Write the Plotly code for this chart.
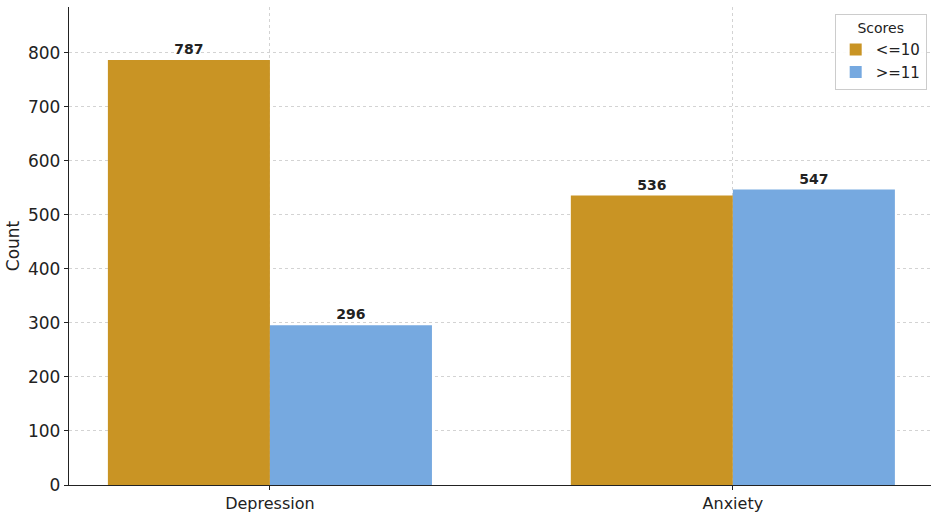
import plotly.graph_objects as go

categories = ["Depression", "Anxiety"]
low_scores = [787, 536]
high_scores = [296, 547]
series_names = ["<=10", ">=11"]
y_ticks = [0, 100, 200, 300, 400, 500, 600, 700, 800]

GOLD = "#C99424"
BLUE = "#76A9E0"
FONT = "DejaVu Sans, Verdana, sans-serif"

fig = go.Figure()
for name, vals, col in [(series_names[0], low_scores, GOLD), (series_names[1], high_scores, BLUE)]:
    fig.add_trace(go.Bar(
        x=categories, y=vals, name=name,
        marker=dict(color=col, line=dict(width=0)),
        text=[str(v) for v in vals], textposition="outside",
        textfont=dict(family=FONT, size=14, color="#222222", weight="bold"),
        cliponaxis=False,
    ))

fig.update_layout(
    width=935, height=514,
    margin=dict(l=69, r=4, t=7, b=29, autoexpand=False),
    paper_bgcolor="white", plot_bgcolor="white",
    barmode="group", bargap=0.3, bargroupgap=0,
    font=dict(family=FONT, size=16, color="#222222"),
    legend=dict(
        title=dict(text="Scores", side="top center", font=dict(size=14, family=FONT)),
        x=0.995, xanchor="right", y=0.985, yanchor="top",
        bordercolor="#CCCCCC", borderwidth=1, bgcolor="rgba(255,255,255,0.9)",
        font=dict(size=15, family=FONT),
        itemsizing="constant",
    ),
    showlegend=True,
)
fig.update_xaxes(
    range=[-0.434, 1.428],
    showline=True, linecolor="#222222", linewidth=1.3,
    ticks="outside", ticklen=4, tickcolor="#222222",
    showgrid=True, gridcolor="#D3D3D3", griddash="3px,3px", gridwidth=1,
    tickfont=dict(size=16),
    automargin=False,
)
fig.update_yaxes(
    range=[0, 885],
    tickvals=y_ticks,
    showline=True, linecolor="#222222", linewidth=1.3,
    ticks="outside", ticklen=4, tickcolor="#222222",
    showgrid=True, gridcolor="#D3D3D3", griddash="3px,3px", gridwidth=1,
    zeroline=False,
    title=dict(text="Count", font=dict(size=17), standoff=4),
    tickfont=dict(size=17),
    automargin=False,
)

fig.write_html(
    "out.html",
    config={"displayModeBar": False},
    post_script="document.body.style.margin='0';document.body.style.padding='0';",
)
